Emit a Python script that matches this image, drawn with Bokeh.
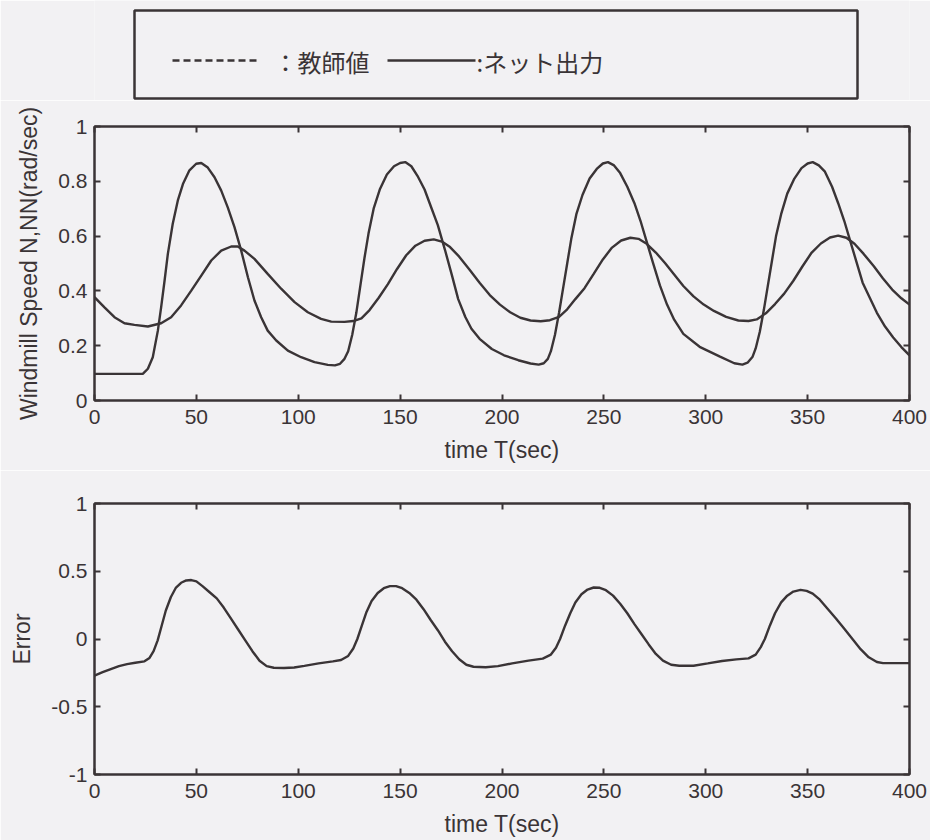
from bokeh.plotting import figure
from bokeh.layouts import column
from bokeh.models import Range1d, LinearAxis, FixedTicker
from bokeh.core.properties import value
from bokeh.embed import file_html
from bokeh.resources import INLINE

# ---------------- data ----------------
t_teacher = [0, 10, 20, 23.7, 26.2, 28.6, 31.1, 32.7, 34.4, 36, 38.4, 40.9, 43.4, 46.6, 49.9, 52.4,
             55.6, 58.9, 62.2, 65.4, 68.7, 72, 75.3, 78.5, 81.8, 85, 89.2, 94.9, 101.4, 108, 114.5,
             118, 120.5, 122.7,
             124.5, 126.5, 128.5, 130.5, 132.5, 134.5, 137, 140, 143.5, 147, 150, 152.5, 155.5,
             158.5, 162, 165, 168.5, 172, 175.5, 178.5, 182, 185, 189, 195, 201, 208, 214, 218,
             220.5, 222.5,
             224, 226, 228, 230, 232, 234, 236.5, 239.5, 243, 246.5, 249.5, 252, 255, 258, 261.5,
             265, 268, 271, 274, 277.5, 281, 284.5, 289, 297, 307, 314, 318, 320.5, 323,
             324.5, 326.5, 328.5, 330.5, 332.5, 334.5, 337, 340, 343.5, 347, 350, 352.5, 355.5,
             358.5, 362, 365, 368, 371, 374, 377, 380.5, 384, 388, 392, 396, 400]
teacher = [0.097, 0.097, 0.097, 0.097, 0.116, 0.158, 0.255, 0.34, 0.438, 0.535, 0.645, 0.73, 0.79,
           0.84, 0.864, 0.867, 0.85, 0.815, 0.766, 0.705, 0.633, 0.547, 0.45, 0.365, 0.304, 0.255,
           0.219, 0.182, 0.158, 0.14, 0.13, 0.128, 0.134, 0.152,
           0.18, 0.24, 0.32, 0.42, 0.52, 0.61, 0.7, 0.77, 0.825, 0.855, 0.867, 0.87, 0.855,
           0.82, 0.77, 0.71, 0.64, 0.55, 0.455, 0.37, 0.305, 0.262, 0.225, 0.188, 0.165, 0.147,
           0.135, 0.131, 0.136, 0.152,
           0.18, 0.24, 0.32, 0.41, 0.5, 0.59, 0.68, 0.75, 0.81, 0.845, 0.865, 0.87, 0.858, 0.83,
           0.78, 0.72, 0.655, 0.58, 0.505, 0.42, 0.35, 0.295, 0.243, 0.196, 0.16, 0.136, 0.131,
           0.138, 0.16,
           0.19, 0.25, 0.33, 0.42, 0.51, 0.6, 0.68, 0.755, 0.81, 0.848, 0.865, 0.87, 0.858,
           0.835, 0.78, 0.72, 0.655, 0.58, 0.505, 0.43, 0.375, 0.32, 0.27, 0.23, 0.195, 0.165]

t_net = [0, 4.9, 9.8, 14.7, 19.6, 26.2, 32.7, 37.6, 42.5, 47.4, 52.4, 57.3, 62.2, 67.1, 70.3, 73.6,
         78.5, 85, 91.6, 98.2, 104.7, 111.2, 116.2, 122.7,
         127, 131, 135, 139.5, 144, 148.5, 153, 157.5, 162, 166.5, 170.5, 174.5, 179, 184, 189,
         194, 199, 204, 209, 214, 219, 223.5,
         228, 232, 236, 240.5, 245, 249.5, 254, 258.5, 263, 267, 271, 275.5, 280, 284.5, 289,
         294, 299, 304, 310, 316, 321, 325,
         329.5, 334, 338.5, 343, 347.5, 352, 356.5, 361, 365, 369, 373, 377.5, 382.5, 387, 391.5,
         396, 400]
net_output = [0.377, 0.34, 0.304, 0.282, 0.276, 0.27, 0.282, 0.304, 0.347, 0.4, 0.456, 0.511, 0.547,
              0.562, 0.562, 0.547, 0.517, 0.462, 0.408, 0.359, 0.322, 0.298, 0.288, 0.287,
              0.29, 0.3, 0.33, 0.375, 0.425, 0.48, 0.53, 0.565, 0.583, 0.588, 0.58, 0.56, 0.525,
              0.478, 0.43, 0.385, 0.35, 0.322, 0.302, 0.292, 0.289, 0.293,
              0.305, 0.333, 0.37, 0.41, 0.462, 0.515, 0.558, 0.584, 0.594, 0.59, 0.572, 0.54,
              0.502, 0.46, 0.418, 0.38, 0.35, 0.327, 0.305, 0.292, 0.29, 0.296,
              0.318, 0.352, 0.39, 0.437, 0.49, 0.54, 0.573, 0.595, 0.602, 0.594, 0.572, 0.535,
              0.49, 0.445, 0.405, 0.373, 0.35]

t_err = [0, 4, 8, 12, 16, 20, 24.5, 27, 29, 31, 33, 35, 37.5, 40, 42.5, 45, 47.5, 50, 53, 56.5, 60,
         63.5, 67, 70.5, 74, 77.5, 81, 84.5, 88, 93, 98, 103, 110, 117, 121, 124.5, 127, 129,
         131, 133.5, 136, 139, 142, 145, 148, 151, 154.5, 158, 161.5, 165, 168.5, 172, 175.5,
         179, 182.5, 186, 192, 198, 205, 213, 220, 224, 226.5, 228.5, 231, 233.5, 236, 239, 242,
         245, 248, 251, 254.5, 258, 261.5, 265, 268.5, 272, 275.5, 279, 283, 287, 294, 301, 308,
         315, 321, 324.5, 327, 329, 331.5, 334, 337, 340, 343, 346.5, 349.5, 352.5, 356, 360, 364,
         368, 372, 376, 380, 384, 387, 393, 400]
error = [-0.27, -0.245, -0.222, -0.2, -0.185, -0.175, -0.165, -0.14, -0.09, -0.01, 0.1, 0.21, 0.31,
         0.38, 0.415, 0.432, 0.435, 0.425, 0.39, 0.345, 0.3, 0.23, 0.15, 0.07, -0.01, -0.09, -0.16,
         -0.2, -0.212, -0.214, -0.21, -0.198, -0.18, -0.165, -0.155, -0.125, -0.07, 0.0, 0.09,
         0.2, 0.28, 0.34, 0.375, 0.39, 0.39, 0.375, 0.34, 0.29, 0.22, 0.14, 0.065, -0.02, -0.09,
         -0.15, -0.19, -0.205, -0.208, -0.2, -0.18, -0.16, -0.145, -0.115, -0.065, 0.0, 0.1,
         0.19, 0.27, 0.33, 0.365, 0.38, 0.378, 0.36, 0.32, 0.26, 0.19, 0.11, 0.035, -0.04, -0.11,
         -0.16, -0.19, -0.197, -0.197, -0.18, -0.162, -0.15, -0.143, -0.115, -0.06, 0.0, 0.1,
         0.19, 0.27, 0.32, 0.35, 0.363, 0.355, 0.335, 0.29, 0.22, 0.15, 0.075, 0.0, -0.075,
         -0.135, -0.17, -0.178, -0.178, -0.178]

x_ticks = [0, 50, 100, 150, 200, 250, 300, 350, 400]
speed_ticks = [0, 0.2, 0.4, 0.6, 0.8, 1]
speed_tick_labels = ["0", "0.2", "0.4", "0.6", "0.8", "1"]
err_ticks = [-1, -0.5, 0, 0.5, 1]
err_tick_labels = ["-1", "-0.5", "0", "0.5", "1"]

legend_labels = ["：教師値", ":ネット出力"]

# ---------------- style ----------------
BG = "#f2f1f3"
INK = "#3a3436"
FONT = "Liberation Sans"
TICK_FS = "21px"
LABEL_FS = "23px"
W = 930
BL, BR = 94, 21
LEG_H = 100


def tick_axis_style(ax):
    ax.major_tick_in = 6
    ax.major_tick_out = 0
    ax.minor_tick_line_color = None
    ax.axis_line_color = INK
    ax.axis_line_width = 2
    ax.major_tick_line_color = INK
    ax.major_tick_line_width = 2


def style_axes(p, xt, yt, ylab_overrides, ylabel, xlabel):
    p.xaxis.ticker = FixedTicker(ticks=xt)
    p.yaxis.ticker = FixedTicker(ticks=yt)
    p.yaxis.major_label_overrides = ylab_overrides
    p.xaxis.major_label_overrides = {float(v): str(v) for v in xt}
    for ax in (p.xaxis[0], p.yaxis[0]):
        tick_axis_style(ax)
        ax.major_label_text_font = FONT
        ax.major_label_text_font_size = TICK_FS
        ax.major_label_text_color = INK
        ax.axis_label_text_font = FONT
        ax.axis_label_text_font_size = LABEL_FS
        ax.axis_label_text_font_style = "normal"
        ax.axis_label_text_color = INK
    p.xaxis.axis_label = xlabel
    p.yaxis.axis_label = ylabel
    p.xaxis.major_label_standoff = 9
    p.xaxis.axis_label_standoff = 10
    p.yaxis.major_label_standoff = 7
    p.yaxis.axis_label_standoff = 13
    # mirrored tick axes (top and right), no labels
    for loc, ticks in (("above", xt), ("right", yt)):
        ax = LinearAxis(ticker=FixedTicker(ticks=ticks))
        tick_axis_style(ax)
        ax.major_label_text_font_size = "0px"
        ax.major_label_text_color = None
        ax.major_label_standoff = 0
        p.add_layout(ax, loc)
    p.xgrid.visible = False
    p.ygrid.visible = False
    p.outline_line_color = INK
    p.outline_line_width = 2
    p.background_fill_color = BG
    p.border_fill_color = BG


# ---------------- legend strip (coordinates = page pixels) ----------------
leg = figure(width=W, height=LEG_H, x_range=Range1d(BL, W - BR), y_range=Range1d(LEG_H, 0),
             output_backend="svg", toolbar_location=None,
             min_border_left=BL, min_border_right=BR, min_border_top=0, min_border_bottom=0)
leg.axis.visible = False
leg.grid.visible = False
leg.outline_line_color = None
leg.background_fill_color = BG
leg.border_fill_color = BG
leg.quad(left=[134], right=[857], top=[10], bottom=[98], fill_color=None,
         line_color=INK, line_width=2.5)
leg.line(x=[172, 260], y=[60, 60], line_color=INK, line_width=2.5, line_dash="7 4")
leg.line(x=[387, 475], y=[60, 60], line_color=INK, line_width=2.5)
leg.text(x=[273, 476], y=[61, 61], text=legend_labels, text_font=value("Noto Sans CJK JP"),
         text_font_size="24px", text_color=INK, text_baseline="middle", text_align="left")

# ---------------- speed plot ----------------
p1 = figure(width=W, height=470 - LEG_H, x_range=Range1d(0, 400), y_range=Range1d(0, 1),
            output_backend="svg", toolbar_location=None,
            min_border_left=BL, min_border_right=BR, min_border_top=126 - LEG_H,
            min_border_bottom=70)
p1.line(t_teacher, teacher, line_color=INK, line_width=2.4)
p1.line(t_net, net_output, line_color=INK, line_width=2.4)
style_axes(p1, x_ticks, speed_ticks,
           {float(v): s for v, s in zip(speed_ticks, speed_tick_labels)},
           "Windmill Speed N,NN(rad/sec)", "time T(sec)")

# ---------------- error plot ----------------
p2 = figure(width=W, height=370, x_range=Range1d(0, 400), y_range=Range1d(-1, 1),
            output_backend="svg", toolbar_location=None,
            min_border_left=BL, min_border_right=BR, min_border_top=33, min_border_bottom=66)
p2.line(t_err, error, line_color=INK, line_width=2.4)
style_axes(p2, x_ticks, err_ticks,
           {float(v): s for v, s in zip(err_ticks, err_tick_labels)},
           "Error", "time T(sec)")

layout = column(leg, p1, p2, spacing=0)
open("out.html", "w").write(file_html(layout, INLINE))
